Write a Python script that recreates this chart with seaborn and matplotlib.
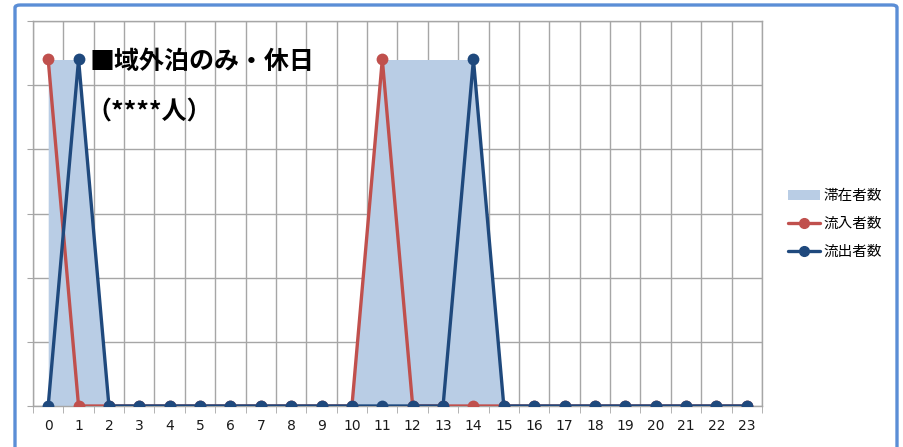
import numpy as np
import pandas as pd
import matplotlib
matplotlib.use("Agg")
import matplotlib.pyplot as plt
from matplotlib.patches import FancyBboxPatch, Patch
from matplotlib.lines import Line2D
import seaborn as sns

# hours and the three series (y scale 0-6)
hours = list(range(24))
stay = [5.4, 5.4, 0, 0, 0, 0, 0, 0, 0, 0, 0, 5.4, 5.4, 5.4, 5.4, 0, 0, 0, 0, 0, 0, 0, 0, 0]
inflow = [5.4, 0, 0, 0, 0, 0, 0, 0, 0, 0, 0, 5.4, 0, 0, 0, 0, 0, 0, 0, 0, 0, 0, 0, 0]
outflow = [0, 5.4, 0, 0, 0, 0, 0, 0, 0, 0, 0, 0, 0, 0, 5.4, 0, 0, 0, 0, 0, 0, 0, 0, 0]
series_labels = ["滞在者数", "流入者数", "流出者数"]
title_lines = ["■域外泊のみ・休日", "（****人）"]

sns.set_style("white")
plt.rcParams["font.family"] = ["Noto Sans CJK JP", "DejaVu Sans"]
plt.rcParams["text.color"] = "black"

df = pd.DataFrame({"hour": hours, "stay": stay, "inflow": inflow, "outflow": outflow})

fig = plt.figure(figsize=(9.04, 4.47), dpi=100)
ax = fig.add_axes([33 / 904, 1 - 406 / 447, (762 - 33) / 904, (406 - 21) / 447])

# area for people staying
ax.fill_between(df["hour"], df["stay"], color="#B9CDE5", lw=0, zorder=2)

red = "#C0504D"
navy = "#1F497D"
sns.lineplot(data=df, x="hour", y="inflow", color=red, lw=2.4, marker="o",
             markersize=8.5, markeredgewidth=0, ax=ax, zorder=3)
sns.lineplot(data=df, x="hour", y="outflow", color=navy, lw=2.4, marker="o",
             markersize=8.5, markeredgewidth=0, ax=ax, zorder=4)

ax.set_xlim(-0.5, 23.5)
ax.set_ylim(0, 6)
ax.set_xlabel("")
ax.set_ylabel("")
ax.set_xticks(hours)
ax.set_xticklabels([str(h) for h in hours], family=["DejaVu Sans"], fontsize=10, color="#1a1a1a")
ax.set_xticks(np.arange(-0.5, 24, 1), minor=True)
ax.set_yticks(range(7))
ax.set_yticklabels([])
ax.tick_params(axis="x", which="major", length=0, pad=9)
ax.tick_params(axis="x", which="minor", length=5, color="#A6A6A6", direction="out", bottom=True)
ax.tick_params(axis="y", length=4, color="#A6A6A6", left=True)
ax.grid(False)
ax.grid(axis="x", which="minor", color="#A6A6A6", lw=1.0, zorder=1)
ax.grid(axis="y", which="major", color="#A6A6A6", lw=1.0, zorder=1)
ax.set_axisbelow(True)
for side, sp in ax.spines.items():
    sp.set_color("#A6A6A6")
    sp.set_linewidth(1.0)

fig.text(90 / 904, 1 - 62 / 447, title_lines[0], fontsize=18, fontweight="bold", va="center")
fig.text(86 / 904, 1 - 113 / 447, title_lines[1], fontsize=18, fontweight="bold", va="center")

handles = [
    Patch(facecolor="#B9CDE5", edgecolor="none"),
    Line2D([], [], color=red, lw=2.4, marker="o", markersize=7),
    Line2D([], [], color=navy, lw=2.4, marker="o", markersize=7),
]
fig.legend(handles, series_labels, loc="center left", bbox_to_anchor=(775 / 904, 1 - 224 / 447),
           frameon=False, fontsize=10.5, handlelength=2.2, handletextpad=0.25, labelspacing=0.95)

# blue frame around the whole chart
frame = FancyBboxPatch((15 / 904, -0.05), (897 - 15) / 904, 1.05 - 5 / 447,
                       boxstyle="round,pad=0,rounding_size=0.006", transform=fig.transFigure,
                       facecolor="none", edgecolor="#5B8ED6", lw=2.4)
fig.patches.append(frame)

fig.savefig("out.png", dpi=100)
